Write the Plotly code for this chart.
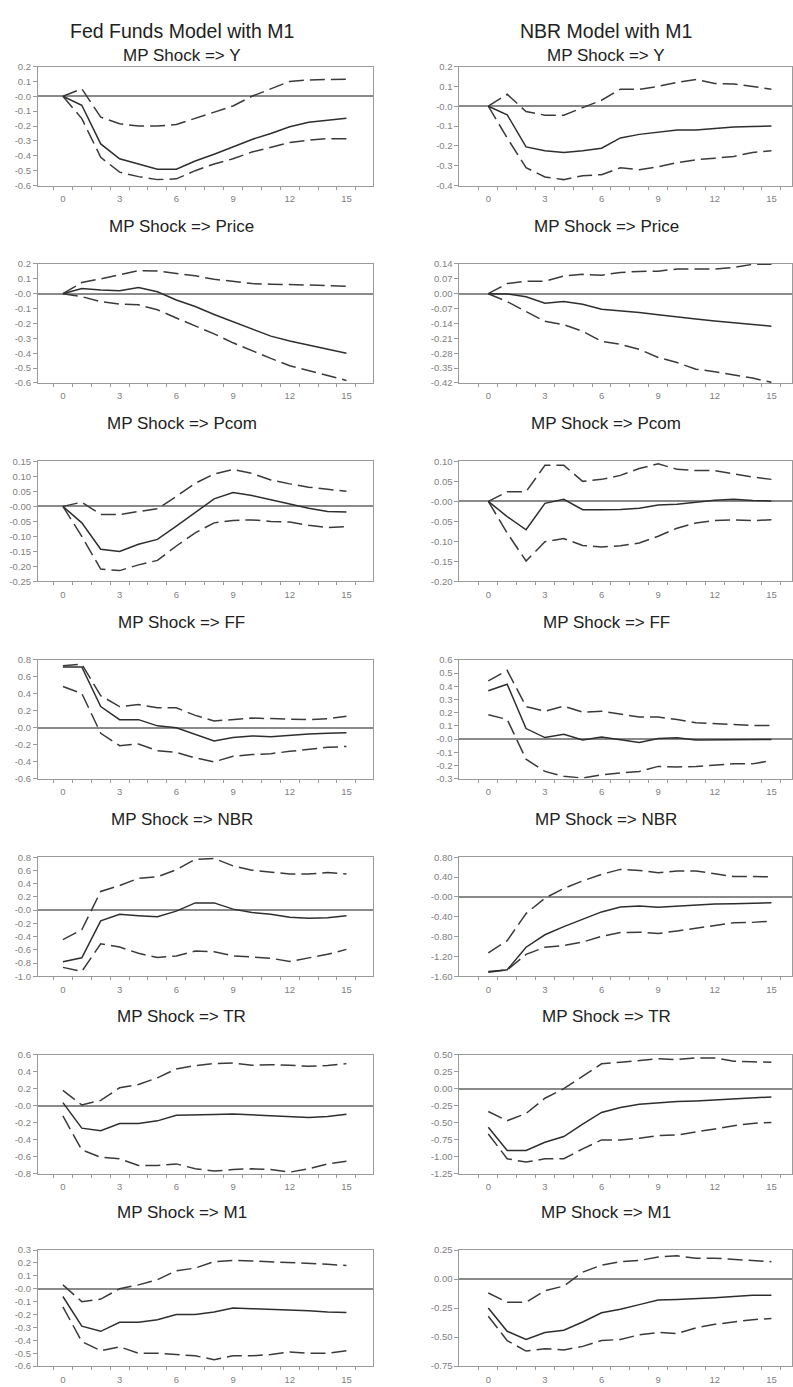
import plotly.graph_objects as go

W, H = 793, 1387
horizons = list(range(16))

# ---------------- Fed Funds model (left column) ----------------
ff_y_irf = [0, -0.06, -0.32, -0.42, -0.455, -0.49, -0.49, -0.435, -0.39, -0.34, -0.29, -0.25, -0.205, -0.175, -0.16, -0.148]
ff_y_hi = [0, 0.05, -0.14, -0.185, -0.2, -0.2, -0.19, -0.15, -0.105, -0.065, 0.0, 0.05, 0.1, 0.11, 0.11, 0.115]
ff_y_lo = [0, -0.15, -0.41, -0.51, -0.54, -0.56, -0.555, -0.5, -0.455, -0.42, -0.375, -0.34, -0.31, -0.295, -0.285, -0.285]

ff_p_irf = [0, 0.035, 0.025, 0.02, 0.042, 0.013, -0.042, -0.086, -0.14, -0.19, -0.24, -0.285, -0.318, -0.347, -0.373, -0.4]
ff_p_hi = [0, 0.075, 0.1, 0.125, 0.155, 0.152, 0.135, 0.12, 0.097, 0.08, 0.068, 0.064, 0.062, 0.06, 0.055, 0.05]
ff_p_lo = [0, -0.02, -0.053, -0.07, -0.075, -0.108, -0.163, -0.215, -0.27, -0.33, -0.385, -0.435, -0.484, -0.517, -0.55, -0.583]

ff_pcom_irf = [0, -0.055, -0.143, -0.15, -0.126, -0.11, -0.066, -0.022, 0.025, 0.046, 0.036, 0.022, 0.008, -0.006, -0.017, -0.019]
ff_pcom_hi = [0, 0.014, -0.027, -0.027, -0.017, -0.008, 0.033, 0.077, 0.108, 0.123, 0.11, 0.088, 0.075, 0.064, 0.057, 0.05]
ff_pcom_lo = [0, -0.1, -0.209, -0.214, -0.195, -0.18, -0.132, -0.088, -0.055, -0.047, -0.045, -0.05, -0.052, -0.063, -0.071, -0.067]

ff_ff_irf = [0.715, 0.715, 0.25, 0.096, 0.096, 0.023, 0.0, -0.077, -0.154, -0.115, -0.096, -0.104, -0.085, -0.073, -0.065, -0.058]
ff_ff_hi = [0.73, 0.75, 0.377, 0.25, 0.273, 0.235, 0.235, 0.146, 0.08, 0.1, 0.115, 0.108, 0.104, 0.096, 0.108, 0.135]
ff_ff_lo = [0.485, 0.404, -0.065, -0.21, -0.19, -0.27, -0.29, -0.354, -0.4, -0.335, -0.315, -0.304, -0.277, -0.25, -0.23, -0.22]

ff_nbr_irf = [-0.78, -0.72, -0.163, -0.064, -0.084, -0.099, -0.015, 0.109, 0.109, 0.015, -0.035, -0.064, -0.109, -0.124, -0.114, -0.084]
ff_nbr_hi = [-0.446, -0.297, 0.282, 0.371, 0.48, 0.505, 0.609, 0.767, 0.782, 0.668, 0.604, 0.569, 0.545, 0.545, 0.569, 0.545]
ff_nbr_lo = [-0.866, -0.926, -0.51, -0.559, -0.653, -0.718, -0.693, -0.619, -0.629, -0.693, -0.708, -0.728, -0.777, -0.728, -0.668, -0.594]

ff_tr_irf = [0.035, -0.265, -0.296, -0.21, -0.21, -0.179, -0.113, -0.113, -0.105, -0.097, -0.109, -0.121, -0.128, -0.14, -0.128, -0.101]
ff_tr_hi = [0.179, 0.008, 0.062, 0.21, 0.249, 0.327, 0.432, 0.471, 0.494, 0.502, 0.475, 0.482, 0.475, 0.463, 0.471, 0.494]
ff_tr_lo = [-0.121, -0.521, -0.607, -0.626, -0.704, -0.704, -0.685, -0.743, -0.77, -0.751, -0.743, -0.751, -0.782, -0.743, -0.685, -0.654]

ff_m1_irf = [-0.06, -0.29, -0.33, -0.26, -0.26, -0.24, -0.2, -0.2, -0.18, -0.15, -0.155, -0.16, -0.16, -0.17, -0.18, -0.185]
ff_m1_hi = [0.03, -0.1, -0.08, 0.0, 0.03, 0.07, 0.14, 0.16, 0.21, 0.22, 0.215, 0.21, 0.2, 0.2, 0.19, 0.18]
ff_m1_lo = [-0.14, -0.41, -0.48, -0.45, -0.5, -0.5, -0.51, -0.52, -0.55, -0.52, -0.52, -0.51, -0.49, -0.5, -0.5, -0.48]

# ---------------- NBR model (right column) ----------------
nbr_y_irf = [0, -0.043, -0.205, -0.225, -0.233, -0.225, -0.212, -0.16, -0.142, -0.13, -0.12, -0.12, -0.112, -0.105, -0.102, -0.1]
nbr_y_hi = [0, 0.06, -0.027, -0.045, -0.045, -0.007, 0.03, 0.086, 0.085, 0.1, 0.12, 0.135, 0.115, 0.112, 0.1, 0.086]
nbr_y_lo = [0, -0.16, -0.31, -0.357, -0.37, -0.35, -0.345, -0.31, -0.32, -0.305, -0.285, -0.27, -0.262, -0.253, -0.233, -0.225]

nbr_p_irf = [0, -0.001, -0.014, -0.045, -0.037, -0.05, -0.073, -0.079, -0.088, -0.099, -0.11, -0.119, -0.128, -0.136, -0.144, -0.153]
nbr_p_hi = [0, 0.048, 0.059, 0.059, 0.083, 0.091, 0.087, 0.1, 0.105, 0.106, 0.116, 0.116, 0.116, 0.123, 0.138, 0.138]
nbr_p_lo = [0, -0.037, -0.084, -0.13, -0.146, -0.177, -0.224, -0.238, -0.262, -0.3, -0.324, -0.355, -0.367, -0.383, -0.397, -0.417]

nbr_pcom_irf = [0, -0.038, -0.071, -0.005, 0.005, -0.021, -0.021, -0.02, -0.017, -0.009, -0.007, -0.002, 0.003, 0.005, 0.002, 0.001]
nbr_pcom_hi = [0, 0.024, 0.024, 0.09, 0.09, 0.05, 0.055, 0.065, 0.082, 0.094, 0.08, 0.077, 0.077, 0.069, 0.061, 0.055]
nbr_pcom_lo = [0, -0.079, -0.149, -0.101, -0.093, -0.11, -0.114, -0.111, -0.104, -0.087, -0.067, -0.054, -0.048, -0.046, -0.048, -0.046]

nbr_ff_irf = [0.366, 0.415, 0.08, 0.012, 0.037, -0.007, 0.017, -0.002, -0.025, 0.005, 0.01, -0.007, -0.007, -0.007, -0.007, -0.002]
nbr_ff_hi = [0.44, 0.52, 0.246, 0.211, 0.249, 0.204, 0.211, 0.19, 0.167, 0.167, 0.149, 0.124, 0.117, 0.109, 0.104, 0.104]
nbr_ff_lo = [0.184, 0.149, -0.152, -0.244, -0.281, -0.294, -0.269, -0.256, -0.244, -0.206, -0.211, -0.206, -0.194, -0.187, -0.187, -0.162]

nbr_nbr_irf = [-1.52, -1.47, -1.015, -0.764, -0.6, -0.448, -0.303, -0.204, -0.185, -0.211, -0.185, -0.158, -0.145, -0.138, -0.125, -0.119]
nbr_nbr_hi = [-1.127, -0.883, -0.336, -0.026, 0.171, 0.323, 0.455, 0.554, 0.534, 0.488, 0.521, 0.521, 0.468, 0.409, 0.409, 0.402]
nbr_nbr_lo = [-1.503, -1.476, -1.16, -1.015, -0.982, -0.91, -0.797, -0.718, -0.712, -0.738, -0.686, -0.633, -0.567, -0.521, -0.514, -0.488]

nbr_tr_irf = [-0.569, -0.91, -0.91, -0.788, -0.705, -0.52, -0.35, -0.277, -0.229, -0.204, -0.19, -0.18, -0.165, -0.151, -0.136, -0.122]
nbr_tr_hi = [-0.336, -0.472, -0.365, -0.141, 0.0, 0.185, 0.365, 0.389, 0.413, 0.438, 0.428, 0.452, 0.452, 0.404, 0.394, 0.389]
nbr_tr_lo = [-0.666, -1.031, -1.08, -1.031, -1.031, -0.885, -0.754, -0.754, -0.73, -0.69, -0.681, -0.642, -0.593, -0.545, -0.511, -0.496]

nbr_m1_irf = [-0.25, -0.45, -0.52, -0.46, -0.44, -0.37, -0.29, -0.26, -0.22, -0.18, -0.175, -0.17, -0.16, -0.15, -0.14, -0.14]
nbr_m1_hi = [-0.12, -0.2, -0.2, -0.1, -0.06, 0.06, 0.12, 0.15, 0.16, 0.19, 0.2, 0.18, 0.18, 0.17, 0.16, 0.15]
nbr_m1_lo = [-0.32, -0.53, -0.62, -0.6, -0.61, -0.58, -0.53, -0.52, -0.48, -0.46, -0.47, -0.42, -0.39, -0.37, -0.35, -0.34]

# ---------------- titles and tick labels ----------------
column_titles = ["Fed Funds Model with M1", "NBR Model with M1"]
panel_titles = ["MP Shock => Y", "MP Shock => Price", "MP Shock => Pcom", "MP Shock => FF",
                "MP Shock => NBR", "MP Shock => TR", "MP Shock => M1"]
x_tick_vals = [0, 3, 6, 9, 12, 15]

ff_y_ticks = [0.2, 0.1, 0.0, -0.1, -0.2, -0.3, -0.4, -0.5, -0.6]
ff_y_text = ["0.2", "0.1", "-0.0", "-0.1", "-0.2", "-0.3", "-0.4", "-0.5", "-0.6"]
nbr_y_ticks = [0.2, 0.1, 0.0, -0.1, -0.2, -0.3, -0.4]
nbr_y_text = ["0.2", "0.1", "-0.0", "-0.1", "-0.2", "-0.3", "-0.4"]
ff_p_ticks = [0.2, 0.1, 0.0, -0.1, -0.2, -0.3, -0.4, -0.5, -0.6]
ff_p_text = ["0.2", "0.1", "-0.0", "-0.1", "-0.2", "-0.3", "-0.4", "-0.5", "-0.6"]
nbr_p_ticks = [0.14, 0.07, 0.0, -0.07, -0.14, -0.21, -0.28, -0.35, -0.42]
nbr_p_text = ["0.14", "0.07", "0.00", "-0.07", "-0.14", "-0.21", "-0.28", "-0.35", "-0.42"]
ff_pcom_ticks = [0.15, 0.10, 0.05, 0.0, -0.05, -0.10, -0.15, -0.20, -0.25]
ff_pcom_text = ["0.15", "0.10", "0.05", "-0.00", "-0.05", "-0.10", "-0.15", "-0.20", "-0.25"]
nbr_pcom_ticks = [0.10, 0.05, 0.0, -0.05, -0.10, -0.15, -0.20]
nbr_pcom_text = ["0.10", "0.05", "-0.00", "-0.05", "-0.10", "-0.15", "-0.20"]
ff_ff_ticks = [0.8, 0.6, 0.4, 0.2, 0.0, -0.2, -0.4, -0.6]
ff_ff_text = ["0.8", "0.6", "0.4", "0.2", "-0.0", "-0.2", "-0.4", "-0.6"]
nbr_ff_ticks = [0.6, 0.5, 0.4, 0.3, 0.2, 0.1, 0.0, -0.1, -0.2, -0.3]
nbr_ff_text = ["0.6", "0.5", "0.4", "0.3", "0.2", "0.1", "-0.0", "-0.1", "-0.2", "-0.3"]
ff_nbr_ticks = [0.8, 0.6, 0.4, 0.2, 0.0, -0.2, -0.4, -0.6, -0.8, -1.0]
ff_nbr_text = ["0.8", "0.6", "0.4", "0.2", "-0.0", "-0.2", "-0.4", "-0.6", "-0.8", "-1.0"]
nbr_nbr_ticks = [0.8, 0.4, 0.0, -0.4, -0.8, -1.2, -1.6]
nbr_nbr_text = ["0.80", "0.40", "-0.00", "-0.40", "-0.80", "-1.20", "-1.60"]
ff_tr_ticks = [0.6, 0.4, 0.2, 0.0, -0.2, -0.4, -0.6, -0.8]
ff_tr_text = ["0.6", "0.4", "0.2", "-0.0", "-0.2", "-0.4", "-0.6", "-0.8"]
nbr_tr_ticks = [0.5, 0.25, 0.0, -0.25, -0.5, -0.75, -1.0, -1.25]
nbr_tr_text = ["0.50", "0.25", "0.00", "-0.25", "-0.50", "-0.75", "-1.00", "-1.25"]
ff_m1_ticks = [0.3, 0.2, 0.1, 0.0, -0.1, -0.2, -0.3, -0.4, -0.5, -0.6]
ff_m1_text = ["0.3", "0.2", "0.1", "-0.0", "-0.1", "-0.2", "-0.3", "-0.4", "-0.5", "-0.6"]
nbr_m1_ticks = [0.25, 0.0, -0.25, -0.5, -0.75]
nbr_m1_text = ["0.25", "0.00", "-0.25", "-0.50", "-0.75"]

panels = [
    [(ff_y_irf, ff_y_hi, ff_y_lo, ff_y_ticks, ff_y_text), (nbr_y_irf, nbr_y_hi, nbr_y_lo, nbr_y_ticks, nbr_y_text)],
    [(ff_p_irf, ff_p_hi, ff_p_lo, ff_p_ticks, ff_p_text), (nbr_p_irf, nbr_p_hi, nbr_p_lo, nbr_p_ticks, nbr_p_text)],
    [(ff_pcom_irf, ff_pcom_hi, ff_pcom_lo, ff_pcom_ticks, ff_pcom_text), (nbr_pcom_irf, nbr_pcom_hi, nbr_pcom_lo, nbr_pcom_ticks, nbr_pcom_text)],
    [(ff_ff_irf, ff_ff_hi, ff_ff_lo, ff_ff_ticks, ff_ff_text), (nbr_ff_irf, nbr_ff_hi, nbr_ff_lo, nbr_ff_ticks, nbr_ff_text)],
    [(ff_nbr_irf, ff_nbr_hi, ff_nbr_lo, ff_nbr_ticks, ff_nbr_text), (nbr_nbr_irf, nbr_nbr_hi, nbr_nbr_lo, nbr_nbr_ticks, nbr_nbr_text)],
    [(ff_tr_irf, ff_tr_hi, ff_tr_lo, ff_tr_ticks, ff_tr_text), (nbr_tr_irf, nbr_tr_hi, nbr_tr_lo, nbr_tr_ticks, nbr_tr_text)],
    [(ff_m1_irf, ff_m1_hi, ff_m1_lo, ff_m1_ticks, ff_m1_text), (nbr_m1_irf, nbr_m1_hi, nbr_m1_lo, nbr_m1_ticks, nbr_m1_text)],
]

# ---------------- layout geometry (pixels) ----------------
row_tops = [61, 260, 459, 659, 858, 1057, 1254]
row_heights = [120, 120, 121, 120, 120, 120, 117]
col_left = [38, 460]
col_right = [373, 793]
col_xrange = [[-1.32, 16.38], [-1.53, 16.09]]
title_cx = [182, 607]

FONT = "Liberation Sans, Arial, sans-serif"
frame_col = "#9a9a9a"
tick_col = "#808080"
line_col = "#2e2e2e"
band_col = "#3a3a3a"

fig = go.Figure()
layout = dict(
    width=W, height=H, margin=dict(l=0, r=0, t=0, b=0),
    paper_bgcolor="white", plot_bgcolor="white", showlegend=False,
    font=dict(family=FONT, color="#222"),
)
annotations = []
half_ticks = [k - 0.5 for k in range(0, 17)]

for r in range(7):
    for c in range(2):
        idx = r * 2 + c + 1
        irf, hi, lo, yt, ytt = panels[r][c]
        xa = "x" if idx == 1 else f"x{idx}"
        ya = "y" if idx == 1 else f"y{idx}"
        for series, dash, col in ((hi, "15px,6px", band_col), (lo, "15px,6px", band_col), (irf, "solid", line_col)):
            fig.add_trace(go.Scatter(x=horizons, y=series, mode="lines", xaxis=xa, yaxis=ya,
                                     line=dict(color=col, width=1.5, dash=dash), hoverinfo="skip"))
        top = row_tops[r]
        bot = top + row_heights[r]
        xkey = "xaxis" if idx == 1 else f"xaxis{idx}"
        ykey = "yaxis" if idx == 1 else f"yaxis{idx}"
        layout[xkey] = dict(
            domain=[col_left[c] / W, col_right[c] / W], anchor=ya, range=col_xrange[c],
            tickmode="array", tickvals=x_tick_vals, ticktext=[str(v) for v in x_tick_vals],
            ticks="outside", ticklen=4, tickcolor="rgba(0,0,0,0)", showgrid=False, zeroline=False,
            showline=True, linecolor=frame_col, linewidth=1, mirror=True,
            tickfont=dict(family=FONT, size=9.5, color=tick_col),
            minor=dict(tickmode="array", tickvals=half_ticks, ticks="outside", ticklen=3,
                       tickcolor=frame_col, showgrid=False),
        )
        layout[ykey] = dict(
            domain=[1 - bot / H, 1 - top / H], anchor=xa, range=[yt[-1], yt[0]],
            tickmode="array", tickvals=yt, ticktext=ytt,
            ticks="outside", ticklen=4, tickcolor=frame_col, showgrid=False,
            zeroline=True, zerolinecolor="#8a8a8a", zerolinewidth=1.5,
            showline=True, linecolor=frame_col, linewidth=1, mirror=True,
            tickfont=dict(family=FONT, size=9.5, color=tick_col),
        )
        ty = 50 if r == 0 else top - 38
        annotations.append(dict(text=panel_titles[r], x=title_cx[c] / W, y=1 - ty / H,
                                xref="paper", yref="paper", xanchor="center", yanchor="middle",
                                showarrow=False, font=dict(family=FONT, size=17, color="#222")))

for c in range(2):
    annotations.append(dict(text=column_titles[c], x=title_cx[c] / W, y=1 - 25 / H,
                            xref="paper", yref="paper", xanchor="center", yanchor="middle",
                            showarrow=False, font=dict(family=FONT, size=19.5, color="#222")))

layout["annotations"] = annotations
fig.update_layout(**layout)
fig.write_html("out.html", config={"displayModeBar": False},
               post_script="document.body.style.margin='0';")
